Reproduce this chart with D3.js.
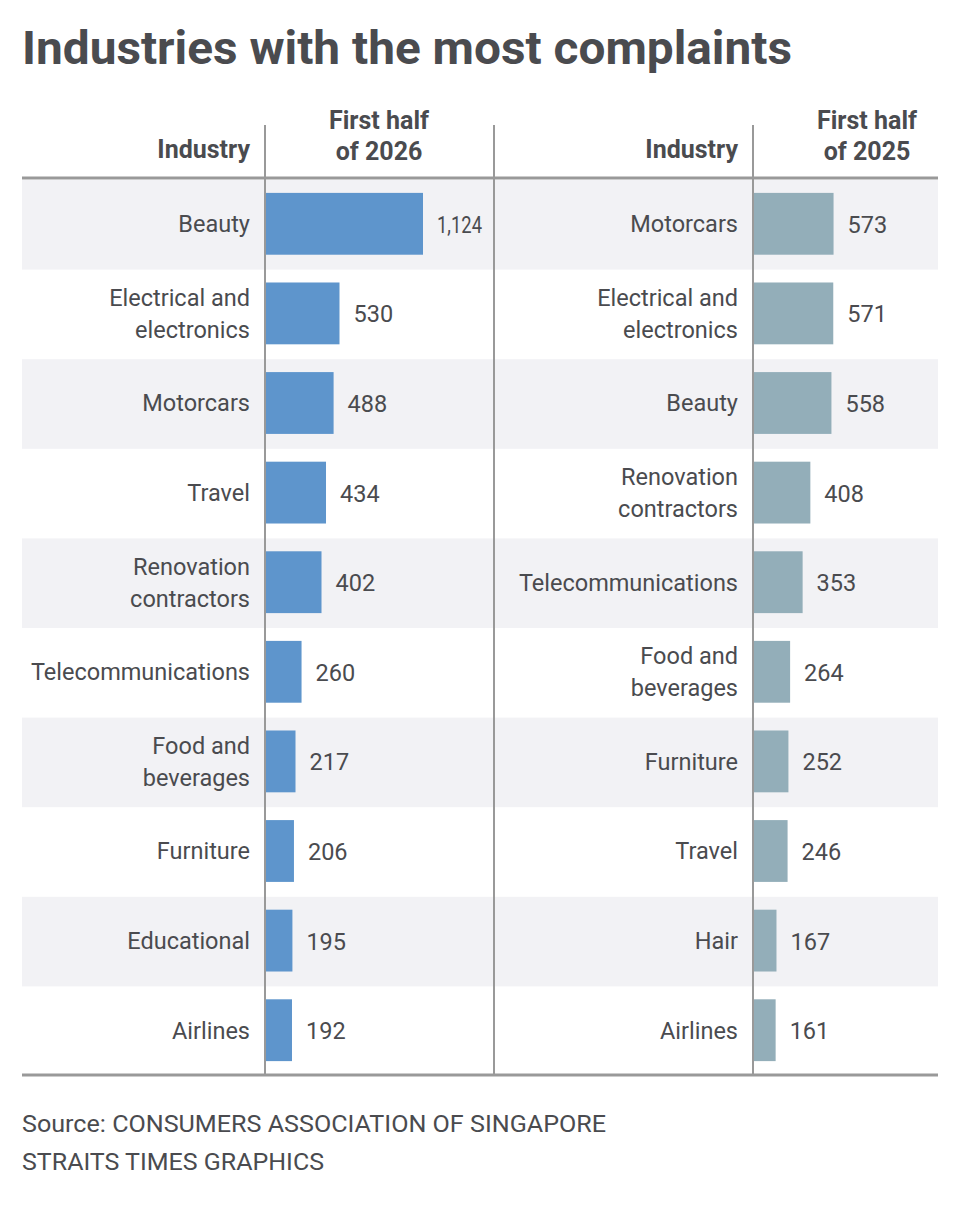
<!DOCTYPE html>
<html>
<head>
    <meta charset="utf-8">
    <title>Industries with the most complaints</title>
    <script type="text/javascript" src="https://cdn.jsdelivr.net/npm/d3@7"></script>
    <style type="text/css">
        body { margin: 0; background: #fff; }
        text { font-family: Roboto, "Noto Sans", sans-serif; fill: #4a4b4f; }
        .title { font-size: 47px; font-weight: 700; }
        .head { font-size: 25px; font-weight: 700; }
        .label { font-size: 23.5px; }
        .value { font-size: 23.5px; }
        .source { font-size: 24px; }
    </style>
</head>
<body>
<script type="text/javascript">
    // first half of 2026
    var industries2026 = ["Beauty", "Electrical and|electronics", "Motorcars", "Travel",
        "Renovation|contractors", "Telecommunications", "Food and|beverages", "Furniture",
        "Educational", "Airlines"];
    var values2026 = [1124, 530, 488, 434, 402, 260, 217, 206, 195, 192];

    // first half of 2025
    var industries2025 = ["Motorcars", "Electrical and|electronics", "Beauty",
        "Renovation|contractors", "Telecommunications", "Food and|beverages", "Furniture",
        "Travel", "Hair", "Airlines"];
    var values2025 = [573, 571, 558, 408, 353, 264, 252, 246, 167, 161];

    var width = 960, height = 1220;
    var tableTop = 179, tableBottom = 1075, left = 22, right = 938;

    var svg = d3.select("body").append("svg")
            .attr("width", width)
            .attr("height", height);

    svg.append("text")
            .attr("class", "title")
            .attr("x", left)
            .attr("y", 64)
            .attr("textLength", 770)
            .attr("lengthAdjust", "spacingAndGlyphs")
            .text("Industries with the most complaints");

    var y = d3.scaleBand()
            .domain(d3.range(values2026.length))
            .range([tableTop, tableBottom])
            .paddingInner(0.31)
            .paddingOuter(0.155);

    var rowY = d3.scaleBand()
            .domain(d3.range(values2026.length))
            .range([tableTop, tableBottom]);

    var x = d3.scaleLinear()
            .domain([0, 1124])
            .range([0, 158]);

    // stripes
    svg.append("g").selectAll("rect")
            .data(d3.range(values2026.length).filter(function (i) { return i % 2 === 0; }))
            .enter().append("rect")
            .attr("x", left)
            .attr("y", function (i) { return rowY(i) + 1; })
            .attr("width", right - left)
            .attr("height", rowY.bandwidth())
            .attr("fill", "#f2f2f5");

    var panels = [
        {axis: 265, labels: industries2026, values: values2026, color: "#5e95cc", year: "of 2026"},
        {axis: 753, labels: industries2025, values: values2025, color: "#93aeb9", year: "of 2025"}
    ];

    panels.forEach(function (p) {
        var g = svg.append("g");

        // header
        g.append("text")
                .attr("class", "head")
                .attr("x", p.axis - 15)
                .attr("y", 158)
                .attr("text-anchor", "end")
                .text("Industry");
        g.append("text")
                .attr("class", "head")
                .attr("x", p.axis + 114)
                .attr("y", 129)
                .attr("text-anchor", "middle")
                .text("First half");
        g.append("text")
                .attr("class", "head")
                .attr("x", p.axis + 114)
                .attr("y", 160)
                .attr("text-anchor", "middle")
                .text(p.year);

        // bars
        g.selectAll("rect.bar")
                .data(p.values)
                .enter().append("rect")
                .attr("class", "bar")
                .attr("x", p.axis)
                .attr("y", function (d, i) { return y(i); })
                .attr("width", function (d) { return x(d); })
                .attr("height", y.bandwidth())
                .attr("fill", p.color);

        g.selectAll("text.value")
                .data(p.values)
                .enter().append("text")
                .attr("class", "value")
                .attr("x", function (d) { return p.axis + x(d) + 14; })
                .attr("y", function (d, i) { return y(i) + y.bandwidth() / 2; })
                .attr("dy", "0.38em")
                .text(d3.format(","))
                .each(function () {
                    // the original face is narrow; squeeze long numbers so they stay clear of the rule
                    if (this.getComputedTextLength() > 48) {
                        d3.select(this).attr("textLength", 45).attr("lengthAdjust", "spacingAndGlyphs");
                    }
                });

        // industry labels, some on two lines
        var labels = g.selectAll("text.label")
                .data(p.labels)
                .enter().append("text")
                .attr("class", "label")
                .attr("text-anchor", "end")
                .attr("y", function (d, i) { return y(i) + y.bandwidth() / 2; });

        labels.each(function (d) {
            var lines = d.split("|");
            var t = d3.select(this);
            lines.forEach(function (line, k) {
                t.append("tspan")
                        .attr("x", p.axis - 15)
                        .attr("dy", k === 0 ? (0.36 - (lines.length - 1) * 0.68) + "em" : "1.36em")
                        .text(line);
            });
        });
    });

    // vertical rules
    [265, 494, 753].forEach(function (vx) {
        svg.append("line")
                .attr("x1", vx).attr("x2", vx)
                .attr("y1", 125).attr("y2", tableBottom)
                .attr("stroke", "#999")
                .attr("stroke-width", 2);
    });

    // horizontal rules
    [tableTop - 1, tableBottom].forEach(function (hy) {
        svg.append("line")
                .attr("x1", left).attr("x2", right)
                .attr("y1", hy).attr("y2", hy)
                .attr("stroke", "#999")
                .attr("stroke-width", 3);
    });

    svg.append("text")
            .attr("class", "source")
            .attr("x", left)
            .attr("y", 1132)
            .attr("textLength", 584)
            .attr("lengthAdjust", "spacingAndGlyphs")
            .text("Source: CONSUMERS ASSOCIATION OF SINGAPORE");
    svg.append("text")
            .attr("class", "source")
            .attr("x", left)
            .attr("y", 1170)
            .attr("textLength", 302)
            .attr("lengthAdjust", "spacingAndGlyphs")
            .text("STRAITS TIMES GRAPHICS");
</script>
</body>
</html>
